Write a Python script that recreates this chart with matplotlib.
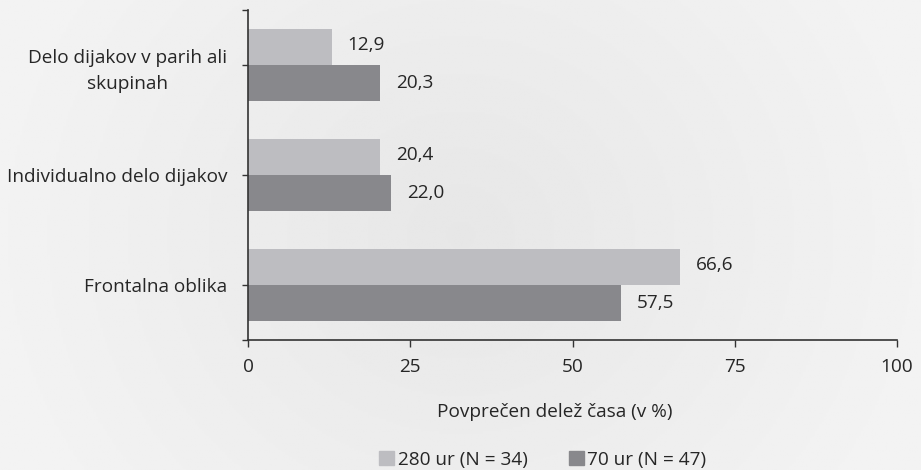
import matplotlib
matplotlib.use("Agg")
import matplotlib.pyplot as plt
import numpy as np
from matplotlib.patches import Patch

plt.rcParams['font.family'] = ['Open Sans', 'DejaVu Sans']

categories = ["Delo dijakov v parih ali\nskupinah", "Individualno delo dijakov", "Frontalna oblika"]
series_names = ["280 ur (N = 34)", "70 ur (N = 47)"]
vals_280 = [12.9, 20.4, 66.6]
vals_70 = [20.3, 22.0, 57.5]
xticks = [0, 25, 50, 75, 100]

c_light = "#bdbdc1"
c_dark = "#88888c"
txt = "#262626"
fs = 13.7

W, H = 921, 470
fig = plt.figure(figsize=(W/100, H/100), dpi=100)

# background gradient
bg = fig.add_axes([0, 0, 1, 1], zorder=-10)
xs = np.linspace(-1, 1, 400)
ys = np.linspace(-1, 1, 200)
X, Y = np.meshgrid(xs, ys)
G = 0.905 + 0.045 * np.clip(np.sqrt(X**2 * 1.0 + Y**2 * 0.3), 0, 1)
bg.imshow(G, cmap="gray", vmin=0, vmax=1, aspect="auto", extent=[0, 1, 0, 1])
bg.axis("off")

ax = fig.add_axes([248/W, 1 - 340/H, (897-248)/W, 330/H])
ax.patch.set_alpha(0)

n = len(categories)
pos = np.arange(n)
h = 0.33
ax.barh(pos - h/2, vals_280, height=h, color=c_light, label=series_names[0])
ax.barh(pos + h/2, vals_70, height=h, color=c_dark, label=series_names[1])

def fmt(v):
    return f"{v:.1f}".replace(".", ",")

for i in range(n):
    ax.annotate(fmt(vals_280[i]), (vals_280[i], pos[i] - h/2), xytext=(11.5, 1),
                textcoords="offset points", va="center", ha="left", fontsize=fs, color=txt)
    ax.annotate(fmt(vals_70[i]), (vals_70[i], pos[i] + h/2), xytext=(11.5, 0),
                textcoords="offset points", va="center", ha="left", fontsize=fs, color=txt)

ax.set_xlim(0, 100)
ax.set_ylim(n - 0.5, -0.5)
ax.set_xticks(xticks)
ax.set_xticklabels([str(t) for t in xticks], fontsize=fs, color=txt)
ax.set_yticks(pos)
ax.set_yticklabels(categories, fontsize=fs, color=txt, multialignment="center", linespacing=1.55)
ax.set_yticks([-0.5, n - 0.5], minor=True)
ax.tick_params(axis="y", which="both", length=4, width=1, color="#333333", pad=11)
ax.tick_params(axis="x", length=5, width=1, color="#333333", pad=8)
for s in ["top", "right"]:
    ax.spines[s].set_visible(False)
for s in ["left", "bottom"]:
    ax.spines[s].set_color("#333333")
    ax.spines[s].set_linewidth(1.2)

fig.text(555/W, 1 - 412/H, "Povprečen delež časa (v %)", ha="center", va="center", fontsize=fs, color=txt)

handles = [Patch(color=c_light), Patch(color=c_dark)]
fig.legend(handles, series_names, loc="center", bbox_to_anchor=(543/W, 1 - 460/H), ncol=2,
           frameon=False, fontsize=fs, handlelength=0.75, handleheight=0.75, handletextpad=0.2,
           columnspacing=2.2, labelcolor=txt)

fig.savefig("out.png", dpi=100)
